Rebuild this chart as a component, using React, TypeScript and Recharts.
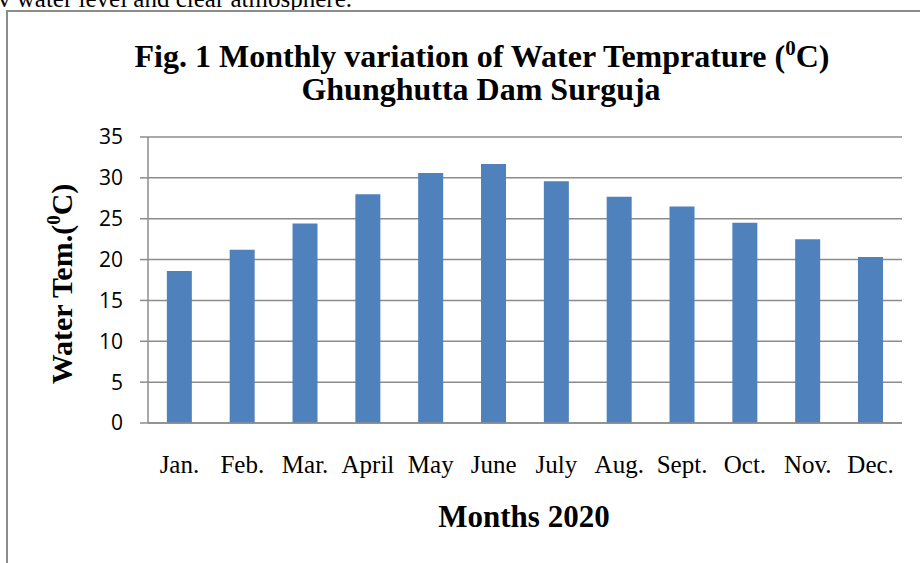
import React from 'react';
import { BarChart, Bar, XAxis, YAxis, CartesianGrid } from 'recharts';

const months = ['Jan.', 'Feb.', 'Mar.', 'April', 'May', 'June', 'July', 'Aug.', 'Sept.', 'Oct.', 'Nov.', 'Dec.'];
const waterTemp = [18.6, 21.2, 24.4, 28.0, 30.6, 31.7, 29.6, 27.7, 26.5, 24.5, 22.5, 20.3];
const yTicks = [0, 5, 10, 15, 20, 25, 30, 35];

const serif = '"Liberation Serif", "Times New Roman", serif';
const gray = '#8c8c8c';

export default function App() {
  const data = months.map((m, i) => ({ month: m, temp: waterTemp[i] }));

  return (
    <div
      style={{
        position: 'absolute',
        left: 0,
        top: 0,
        width: 920,
        height: 563,
        overflow: 'hidden',
        background: '#fff',
      }}
    >
      {/* leftover line of the page text above the figure */}
      <div
        style={{
          position: 'absolute',
          left: -2,
          top: -14,
          fontFamily: serif,
          fontSize: 25,
          lineHeight: '25px',
          whiteSpace: 'nowrap',
          color: '#000',
        }}
      >
        v water level and clear atmosphere.
      </div>

      {/* figure frame */}
      <div
        style={{
          position: 'absolute',
          left: 6,
          top: 10,
          width: 940,
          height: 600,
          borderLeft: `2px solid ${gray}`,
          borderTop: `2px solid ${gray}`,
        }}
      />

      <div style={{ position: 'absolute', left: 0, top: 0 }}>
        <BarChart
          width={920}
          height={563}
          data={data}
          margin={{ top: 137, right: 18, bottom: 110, left: 0 }}
          barCategoryGap="30%"
        >
          <CartesianGrid vertical={false} stroke={gray} strokeWidth={1.5} />
          <XAxis
            dataKey="month"
            height={30}
            stroke={gray}
            strokeWidth={1.5}
            tickLine={false}
            tickSize={0}
            tickMargin={32}
            tick={{ fill: '#000', fontFamily: serif, fontSize: 25 }}
          />
          <YAxis
            width={148}
            domain={[0, 35]}
            ticks={yTicks}
            interval={0}
            stroke={gray}
            strokeWidth={1.5}
            tickSize={8}
            tickMargin={17}
            tick={{ fill: '#000', fontFamily: '"Open Sans", sans-serif', fontSize: 21 }}
          />
          <Bar dataKey="temp" fill="#4f81bd" isAnimationActive={false} />
        </BarChart>
      </div>

      <svg
        width={920}
        height={563}
        style={{ position: 'absolute', left: 0, top: 0, pointerEvents: 'none' }}
      >
        <text x={482} y={67} textAnchor="middle" fontFamily={serif} fontWeight="bold" fontSize={32}>
          Fig. 1 Monthly variation of Water Temprature (
          <tspan fontSize={21} dy={-12}>0</tspan>
          <tspan dy={12}>C)</tspan>
        </text>
        <text x={481} y={100} textAnchor="middle" fontFamily={serif} fontWeight="bold" fontSize={32}>
          Ghunghutta Dam Surguja
        </text>
        <text x={524} y={527} textAnchor="middle" fontFamily={serif} fontWeight="bold" fontSize={31}>
          Months 2020
        </text>
        <text
          transform="translate(72 284) rotate(-90)"
          textAnchor="middle"
          fontFamily={serif}
          fontWeight="bold"
          fontSize={30}
        >
          Water Tem.(
          <tspan fontSize={19} dy={-12}>0</tspan>
          <tspan dy={12}>C)</tspan>
        </text>
      </svg>
    </div>
  );
}
